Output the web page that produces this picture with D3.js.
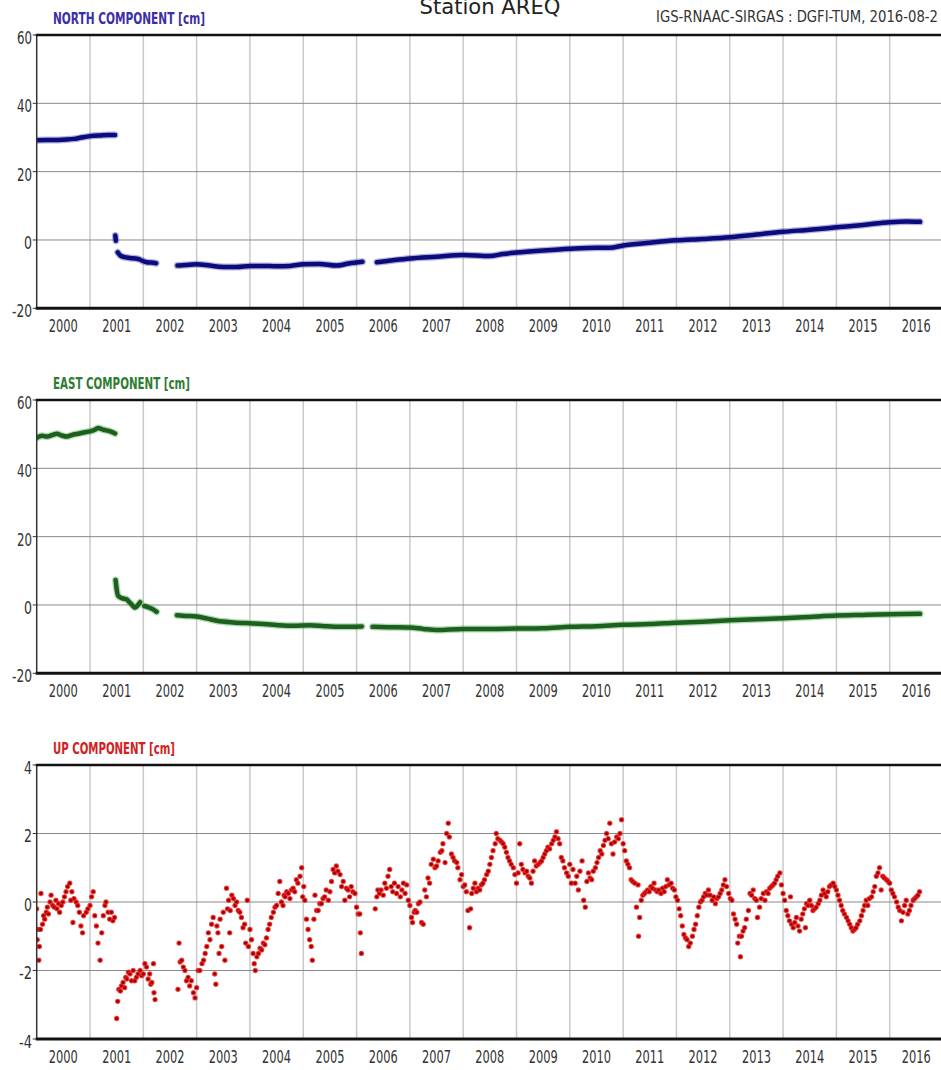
<!DOCTYPE html>
<html>
<head>
<meta charset="utf-8">
<script src="https://cdn.jsdelivr.net/npm/d3@7"></script>
<style>
  html, body { margin: 0; padding: 0; background: #fff; }
  svg { display: block; }
  text { font-family: "Liberation Sans Narrow", "DejaVu Sans Condensed", "Liberation Sans", sans-serif; }
</style>
</head>
<body>
<div id="chart"></div>
<script>
// ---- data ----
const yearLabels = d3.range(2000, 2017);          // 2000 ... 2016
const yearGrid = d3.range(2001, 2018);            // year boundaries
const neTicks = [-20, 0, 20, 40, 60];
const upTicks = [-4, -2, 0, 2, 4];

// [decimal year, cm]; null = data gap
const northPts = [
  [2000.00, 29.2], [2000.2, 29.3], [2000.4, 29.3], [2000.56, 29.4], [2000.7, 29.6], [2000.81, 29.9],
  [2001.0, 30.4], [2001.2, 30.6], [2001.35, 30.7], [2001.47, 30.7],
  null,
  [2001.475, 1.3], [2001.485, -0.2],
  null,
  [2001.52, -3.6], [2001.56, -4.4], [2001.6, -4.8], [2001.68, -5.1], [2001.75, -5.3], [2001.88, -5.5], [2001.93, -5.7],
  null,
  [2001.97, -6.0], [2002.06, -6.5], [2002.15, -6.6], [2002.24, -6.8],
  null,
  [2002.64, -7.5], [2002.8, -7.3], [2003.0, -7.1], [2003.25, -7.5], [2003.5, -7.9], [2003.75, -7.9],
  [2004.0, -7.6], [2004.25, -7.6], [2004.5, -7.7], [2004.75, -7.6], [2005.0, -7.1], [2005.3, -7.0],
  [2005.62, -7.5], [2005.85, -6.9], [2006.11, -6.4],
  null,
  [2006.38, -6.5], [2006.6, -6.1], [2007.0, -5.4], [2007.5, -4.9], [2008.0, -4.4], [2008.5, -4.7],
  [2008.75, -4.1], [2009.0, -3.7], [2009.5, -3.1], [2010.0, -2.6], [2010.5, -2.3], [2010.75, -2.3],
  [2011.0, -1.6], [2011.5, -0.8], [2012.0, -0.1], [2012.5, 0.3], [2013.0, 0.8], [2013.5, 1.6],
  [2014.0, 2.4], [2014.5, 3.0], [2015.0, 3.7], [2015.5, 4.4], [2016.0, 5.2], [2016.3, 5.4], [2016.57, 5.3]
];

const eastPts = [
  [2000.0, 48.9], [2000.1, 49.5], [2000.2, 49.3], [2000.3, 49.8], [2000.38, 50.1], [2000.47, 49.6],
  [2000.56, 49.3], [2000.69, 49.9], [2000.8, 50.2], [2000.88, 50.5], [2001.0, 50.8], [2001.08, 51.2],
  [2001.15, 51.8], [2001.25, 51.3], [2001.38, 50.8], [2001.47, 50.2],
  null,
  [2001.48, 7.3], [2001.5, 4.6], [2001.53, 2.6], [2001.6, 2.0], [2001.69, 1.6], [2001.74, 0.8],
  [2001.78, 0.2], [2001.84, -0.8], [2001.9, 0.0], [2001.94, 0.8],
  null,
  [2002.02, -0.3], [2002.08, -0.6], [2002.16, -1.1], [2002.25, -2.0],
  null,
  [2002.63, -3.0], [2002.8, -3.2], [2003.0, -3.4], [2003.2, -4.0], [2003.38, -4.6], [2003.69, -5.1],
  [2004.06, -5.4], [2004.44, -5.8], [2004.82, -6.1], [2005.13, -5.9], [2005.4, -6.2], [2005.7, -6.4], [2006.1, -6.3],
  null,
  [2006.3, -6.4], [2006.6, -6.5], [2007.0, -6.6], [2007.25, -7.0], [2007.5, -7.3], [2008.0, -7.0],
  [2008.5, -7.0], [2009.0, -6.9], [2009.5, -6.8], [2010.0, -6.4], [2010.5, -6.2], [2011.0, -5.8],
  [2011.5, -5.6], [2012.0, -5.2], [2012.5, -4.9], [2013.0, -4.5], [2013.5, -4.2], [2014.0, -3.9],
  [2014.5, -3.5], [2015.0, -3.1], [2015.5, -2.9], [2016.0, -2.7], [2016.57, -2.6]
];

const upPts = [
  [2000.00,-0.2],[2000.01,-1.1],[2000.03,-0.8],[2000.04,-1.7],[2000.05,-1.3],[2000.07,-0.8],[2000.08,0.25],
  [2000.11,-0.65],[2000.13,-0.4],[2000.15,-0.5],[2000.18,-0.3],[2000.2,-0.15],[2000.22,-0.35],[2000.25,0.0],
  [2000.27,0.2],[2000.3,-0.1],[2000.33,-0.15],[2000.36,0.05],[2000.38,-0.2],[2000.41,-0.05],[2000.43,-0.3],
  [2000.46,-0.1],[2000.49,0.0],[2000.52,0.15],[2000.55,0.3],[2000.58,0.45],[2000.62,0.55],[2000.64,0.05],
  [2000.66,0.3],[2000.68,-0.6],[2000.7,0.1],[2000.74,0.0],[2000.77,-0.1],[2000.8,-0.3],[2000.83,-0.7],
  [2000.86,-0.9],[2000.88,-0.4],[2000.93,-0.3],[2000.96,-0.2],[2001.0,-0.1],[2001.03,0.15],[2001.06,0.3],
  [2001.09,-0.4],[2001.12,-0.7],[2001.15,-1.2],[2001.19,-1.7],[2001.22,-0.9],[2001.25,-0.4],[2001.28,-0.1],
  [2001.3,0.0],[2001.34,-0.3],[2001.37,-0.5],[2001.4,-0.3],[2001.43,-0.55],[2001.46,-0.45],
  [2001.5,-3.4],[2001.52,-2.9],[2001.54,-2.55],[2001.57,-2.6],[2001.59,-2.45],[2001.62,-2.35],[2001.65,-2.5],
  [2001.67,-2.2],[2001.69,-2.25],[2001.72,-2.05],[2001.75,-2.1],[2001.78,-2.3],[2001.81,-2.0],[2001.84,-2.3],
  [2001.87,-2.2],[2001.9,-2.1],[2001.94,-2.0],[2001.97,-2.15],[2002.0,-2.1],[2002.03,-1.8],[2002.06,-1.9],
  [2002.09,-2.25],[2002.12,-2.1],[2002.14,-2.4],[2002.16,-2.35],[2002.19,-1.8],[2002.2,-2.65],[2002.22,-2.85],
  [2002.65,-2.55],[2002.67,-1.2],[2002.69,-1.75],[2002.72,-1.7],[2002.75,-1.9],[2002.78,-2.0],[2002.81,-2.3],
  [2002.84,-2.2],[2002.87,-2.45],[2002.9,-2.3],[2002.94,-2.65],[2002.97,-2.8],[2003.0,-2.5],[2003.03,-2.0],
  [2003.06,-2.0],[2003.1,-1.8],[2003.13,-1.7],[2003.16,-1.5],[2003.19,-1.3],[2003.22,-0.9],[2003.25,-1.1],
  [2003.28,-0.65],[2003.31,-0.45],[2003.34,-2.1],[2003.36,-2.4],[2003.38,-0.7],[2003.4,-0.9],[2003.42,-1.5],
  [2003.44,-0.5],[2003.47,-1.3],[2003.5,-0.3],[2003.53,-1.7],
  [2003.56,0.4],[2003.58,-0.2],[2003.6,0.05],[2003.62,-0.9],[2003.63,-0.25],[2003.66,0.2],[2003.69,0.1],
  [2003.72,-0.1],[2003.75,0.0],[2003.78,-0.25],[2003.81,-0.3],[2003.84,-0.45],[2003.87,-0.75],[2003.9,-0.65],
  [2003.92,-1.2],[2003.95,0.05],[2003.97,-1.3],[2004.0,-0.8],[2004.03,-1.1],[2004.06,-1.5],[2004.08,-1.8],
  [2004.1,-2.0],[2004.13,-1.6],[2004.16,-1.5],[2004.19,-1.35],[2004.22,-1.4],[2004.25,-1.2],[2004.28,-1.25],
  [2004.31,-1.05],[2004.34,-0.8],[2004.37,-0.65],[2004.4,-0.45],[2004.44,-0.3],[2004.47,-0.15],[2004.5,-0.1],
  [2004.53,0.25],[2004.56,0.6],[2004.59,0.0],[2004.62,-0.1],[2004.64,0.2],[2004.66,0.15],[2004.69,0.3],
  [2004.72,0.25],[2004.75,0.1],[2004.78,0.35],[2004.81,0.4],[2004.84,0.3],[2004.87,0.65],[2004.9,0.55],
  [2004.94,0.75],[2004.97,1.0],[2004.99,0.15],[2005.01,0.45],[2005.03,0.05],[2005.06,-0.5],[2005.09,-0.8],
  [2005.12,-1.1],[2005.15,-1.3],[2005.17,-1.7],[2005.2,-0.5],[2005.22,0.2],[2005.25,-0.25],[2005.28,-0.25],
  [2005.31,-0.05],[2005.34,-0.05],[2005.37,0.1],[2005.4,0.15],[2005.43,0.35],[2005.47,0.05],[2005.5,0.3],
  [2005.53,0.6],[2005.56,0.95],[2005.59,0.85],[2005.62,1.05],[2005.65,0.9],[2005.69,0.8],[2005.72,0.45],
  [2005.75,0.6],[2005.78,0.05],[2005.81,0.4],[2005.84,0.35],[2005.87,0.15],[2005.9,0.45],[2005.93,0.3],
  [2005.97,0.25],[2006.0,-0.15],[2006.03,-0.35],[2006.06,-0.35],[2006.07,-0.9],[2006.09,-1.5],
  [2006.35,-0.2],[2006.38,0.15],[2006.4,0.35],[2006.43,0.25],[2006.46,0.35],[2006.5,0.2],[2006.53,0.55],
  [2006.56,0.4],[2006.59,0.75],[2006.62,0.95],[2006.65,0.45],[2006.68,0.3],[2006.71,0.55],[2006.75,0.25],
  [2006.78,0.45],[2006.82,0.15],[2006.85,0.35],[2006.88,0.55],[2006.91,0.25],[2006.94,0.5],[2006.97,0.05],
  [2007.0,-0.1],[2007.03,-0.45],[2007.05,-0.6],[2007.08,-0.3],[2007.1,-0.25],[2007.13,-0.3],[2007.16,-0.05],
  [2007.19,0.0],[2007.22,-0.6],[2007.25,-0.65],[2007.28,0.35],[2007.31,0.15],[2007.34,0.7],[2007.37,0.55],
  [2007.4,1.1],[2007.44,1.25],[2007.47,1.0],[2007.5,1.05],[2007.53,1.2],[2007.57,1.45],[2007.6,1.5],
  [2007.62,1.7],[2007.66,1.15],[2007.69,2.0],[2007.72,2.3],[2007.74,1.9],[2007.78,1.4],[2007.81,1.3],
  [2007.84,1.2],[2007.88,1.15],[2007.9,1.0],[2007.94,0.65],[2007.97,0.8],[2008.0,0.45],[2008.03,0.5],
  [2008.06,0.3],[2008.09,-0.25],[2008.12,-0.75],[2008.14,-0.2],[2008.16,0.25],[2008.19,0.4],[2008.22,0.55],
  [2008.25,0.3],[2008.28,0.4],[2008.31,0.35],[2008.34,0.5],[2008.37,0.55],[2008.4,0.65],[2008.44,0.8],
  [2008.47,0.9],[2008.5,1.1],[2008.53,1.3],[2008.56,1.5],[2008.6,1.7],[2008.62,2.0],[2008.65,1.85],
  [2008.69,1.8],[2008.72,1.75],[2008.75,1.7],[2008.78,1.6],[2008.81,1.45],[2008.84,1.3],[2008.87,1.2],
  [2008.9,1.1],[2008.94,1.0],[2008.97,0.8],[2009.0,0.55],[2009.03,0.85],[2009.06,1.7],[2009.09,1.1],
  [2009.12,0.95],[2009.16,0.85],[2009.19,0.9],[2009.22,0.75],[2009.25,0.7],[2009.28,0.55],[2009.31,0.9],
  [2009.34,1.2],[2009.37,1.05],[2009.41,1.1],[2009.44,1.15],[2009.47,1.2],[2009.5,1.3],[2009.53,1.4],
  [2009.56,1.5],[2009.59,1.6],[2009.62,1.55],[2009.66,1.7],[2009.69,1.8],[2009.72,1.9],[2009.75,2.05],
  [2009.78,1.85],[2009.81,1.7],[2009.84,1.3],[2009.87,1.2],[2009.9,1.0],[2009.94,0.85],[2009.97,0.75],
  [2010.0,1.1],[2010.03,0.55],[2010.06,0.95],[2010.1,0.55],[2010.13,0.75],[2010.16,0.35],[2010.19,0.9],
  [2010.23,1.2],[2010.26,0.05],[2010.29,-0.15],[2010.32,0.6],[2010.35,0.85],[2010.38,0.7],[2010.41,0.65],
  [2010.44,0.9],[2010.48,1.0],[2010.51,1.15],[2010.54,1.3],[2010.57,1.5],[2010.6,1.4],[2010.63,1.65],
  [2010.66,1.8],[2010.69,2.0],[2010.72,1.85],[2010.75,2.3],[2010.78,1.7],[2010.81,1.4],[2010.84,1.75],
  [2010.88,1.9],[2010.91,1.85],[2010.94,2.0],[2010.97,2.4],[2011.0,1.7],[2011.03,1.5],[2011.06,1.2],
  [2011.09,1.1],[2011.12,1.0],[2011.15,0.65],[2011.18,0.6],[2011.22,0.55],[2011.25,-0.15],[2011.28,0.5],
  [2011.29,-1.0],[2011.31,-0.45],[2011.34,0.05],[2011.37,0.2],[2011.4,0.25],[2011.43,0.3],[2011.46,0.35],
  [2011.49,0.3],[2011.52,0.45],[2011.55,0.4],[2011.58,0.55],[2011.61,0.35],[2011.64,0.3],[2011.67,0.35],
  [2011.71,0.25],[2011.74,0.4],[2011.77,0.3],[2011.8,0.45],[2011.83,0.65],[2011.86,0.5],[2011.9,0.55],
  [2011.93,0.4],[2011.96,0.35],[2011.99,0.15],[2012.02,0.05],[2012.05,-0.2],[2012.08,-0.4],[2012.11,-0.7],
  [2012.14,-0.95],[2012.17,-1.05],[2012.2,-1.1],[2012.23,-1.3],[2012.26,-1.2],[2012.3,-1.0],[2012.33,-0.8],
  [2012.36,-0.65],[2012.39,-0.4],[2012.42,-0.15],[2012.45,0.0],[2012.48,0.05],[2012.51,0.15],[2012.54,0.25],
  [2012.57,0.2],[2012.6,0.35],[2012.63,0.2],[2012.67,0.05],[2012.7,0.15],[2012.73,-0.05],[2012.76,0.1],
  [2012.79,0.15],[2012.82,0.25],[2012.85,0.35],[2012.88,0.5],[2012.91,0.65],[2012.94,0.45],[2012.98,0.25],
  [2013.01,0.1],[2013.04,0.05],[2013.07,-0.35],[2013.1,-0.5],[2013.13,-0.65],[2013.15,-1.2],[2013.18,-1.0],
  [2013.2,-1.6],[2013.22,-1.0],[2013.25,-0.85],[2013.28,-0.75],[2013.31,-0.5],[2013.35,-0.25],[2013.38,0.25],
  [2013.41,0.2],[2013.44,0.35],[2013.47,0.1],[2013.5,0.05],[2013.52,-0.45],[2013.56,-0.15],[2013.59,0.1],
  [2013.63,0.25],[2013.66,0.05],[2013.69,0.3],[2013.72,0.25],[2013.75,0.4],[2013.78,0.45],[2013.81,0.5],
  [2013.84,0.55],[2013.87,0.65],[2013.9,0.75],[2013.94,0.85],[2013.97,0.5],[2014.0,0.25],[2014.03,0.05],
  [2014.06,-0.25],[2014.09,-0.4],[2014.12,-0.55],[2014.14,0.15],[2014.16,-0.65],[2014.19,-0.75],[2014.22,-0.6],
  [2014.25,-0.45],[2014.28,-0.7],[2014.31,-0.85],[2014.34,-0.5],[2014.37,-0.35],[2014.4,-0.2],[2014.42,-0.75],
  [2014.44,-0.05],[2014.47,-0.1],[2014.5,0.05],[2014.53,-0.1],[2014.56,-0.25],[2014.59,-0.2],[2014.62,-0.15],
  [2014.66,-0.05],[2014.69,0.05],[2014.72,0.2],[2014.75,0.35],[2014.78,0.25],[2014.81,0.15],[2014.84,0.3],
  [2014.87,0.45],[2014.9,0.5],[2014.94,0.55],[2014.97,0.45],[2015.0,0.35],[2015.03,0.2],[2015.06,0.05],
  [2015.09,-0.1],[2015.12,-0.25],[2015.15,-0.35],[2015.19,-0.45],[2015.22,-0.55],[2015.25,-0.65],[2015.28,-0.75],
  [2015.31,-0.85],[2015.34,-0.8],[2015.37,-0.75],[2015.4,-0.65],[2015.44,-0.55],[2015.47,-0.4],[2015.5,-0.25],
  [2015.53,-0.1],[2015.56,0.05],[2015.59,-0.1],[2015.62,0.1],[2015.66,0.15],[2015.69,0.3],[2015.72,0.45],
  [2015.75,0.75],[2015.78,0.85],[2015.81,1.0],[2015.84,0.35],[2015.87,0.75],[2015.9,0.7],[2015.94,0.65],
  [2015.97,0.6],[2016.0,0.55],[2016.03,0.35],[2016.06,0.25],[2016.09,0.15],[2016.13,0.0],[2016.16,-0.15],
  [2016.19,-0.25],[2016.22,-0.55],[2016.25,-0.3],[2016.28,-0.1],[2016.31,0.05],[2016.34,-0.35],[2016.37,-0.25],
  [2016.4,-0.1],[2016.44,0.05],[2016.47,0.1],[2016.5,0.15],[2016.53,0.2],[2016.56,0.3]
];

const titleText = "Station AREQ";
const sourceText = "IGS-RNAAC-SIRGAS : DGFI-TUM, 2016-08-2";

// ---- layout ----
const width = 941, height = 1070;
const x = d3.scaleLinear().domain([2000, 2017]).range([36.7, 943]);

const panels = [
  { id: "north", label: "NORTH COMPONENT [cm]", labelLen: 152, color: "#3a2fa6",
    top: 35, bottom: 308.3, domain: [-20, 60], ticks: neTicks, data: northPts,
    core: "#0b0b7c", halo: "#5656c0", kind: "band" },
  { id: "east", label: "EAST COMPONENT [cm]", labelLen: 137, color: "#2e7d32",
    top: 400, bottom: 673.3, domain: [-20, 60], ticks: neTicks, data: eastPts,
    core: "#1d5f1f", halo: "#4fae4f", kind: "band" },
  { id: "up", label: "UP COMPONENT [cm]", labelLen: 122, color: "#d32020",
    top: 765, bottom: 1039, domain: [-4, 4], ticks: upTicks, data: upPts,
    core: "#9a0000", halo: "#f22626", kind: "dots" }
];

const svg = d3.select("#chart").append("svg")
  .attr("width", width).attr("height", height);

// header texts
svg.append("text")
  .attr("x", 490).attr("y", 14)
  .attr("text-anchor", "middle")
  .attr("font-size", 21)
  .attr("textLength", 141).attr("lengthAdjust", "spacingAndGlyphs")
  .attr("fill", "#222")
  .text(titleText);

svg.append("text")
  .attr("x", 656).attr("y", 21.5)
  .attr("font-size", 15.5)
  .attr("textLength", 282).attr("lengthAdjust", "spacingAndGlyphs")
  .attr("fill", "#333")
  .text(sourceText);

panels.forEach(p => {
  const y = d3.scaleLinear().domain(p.domain).range([p.bottom, p.top]);
  const g = svg.append("g").attr("class", "panel-" + p.id);

  g.append("clipPath").attr("id", "clip-" + p.id)
    .append("rect")
    .attr("x", x(2000)).attr("y", p.top)
    .attr("width", x(2017) - x(2000)).attr("height", p.bottom - p.top);

  // vertical grid at year boundaries
  g.append("g").selectAll("line")
    .data(yearGrid)
    .join("line")
    .attr("x1", d => x(d)).attr("x2", d => x(d))
    .attr("y1", p.top).attr("y2", p.bottom)
    .attr("stroke", "#c9c9c9").attr("stroke-width", 1.5);

  // horizontal grid
  g.append("g").selectAll("line")
    .data(p.ticks.slice(1, -1))
    .join("line")
    .attr("x1", x(2000)).attr("x2", x(2017))
    .attr("y1", d => y(d)).attr("y2", d => y(d))
    .attr("stroke", "#8a8a8a").attr("stroke-width", 1);

  const plot = g.append("g").attr("clip-path", `url(#clip-${p.id})`);

  if (p.kind === "band") {
    const line = d3.line()
      .defined(d => d !== null)
      .x(d => x(d[0])).y(d => y(d[1]))
      .curve(d3.curveMonotoneX);
    plot.append("path")
      .attr("d", line(p.data))
      .attr("fill", "none").attr("stroke", p.halo)
      .attr("stroke-width", 7).attr("stroke-opacity", 0.45)
      .attr("stroke-linecap", "round").attr("stroke-linejoin", "round");
    plot.append("path")
      .attr("d", line(p.data))
      .attr("fill", "none").attr("stroke", p.core)
      .attr("stroke-width", 4.5)
      .attr("stroke-linecap", "round").attr("stroke-linejoin", "round");
  } else {
    plot.selectAll("circle")
      .data(p.data)
      .join("circle")
      .attr("cx", d => x(d[0])).attr("cy", d => y(d[1]))
      .attr("r", 2.1)
      .attr("fill", p.core)
      .attr("stroke", p.halo).attr("stroke-width", 1.2).attr("stroke-opacity", 0.8);
  }

  // frame: thin left, heavy top and bottom
  g.append("line")
    .attr("x1", x(2000)).attr("x2", x(2000))
    .attr("y1", p.top).attr("y2", p.bottom)
    .attr("stroke", "#333").attr("stroke-width", 1.5);
  g.append("line")
    .attr("x1", x(2000) - 1).attr("x2", x(2017))
    .attr("y1", p.top).attr("y2", p.top)
    .attr("stroke", "#111").attr("stroke-width", 2.5);
  g.append("line")
    .attr("x1", x(2000) - 1).attr("x2", x(2017))
    .attr("y1", p.bottom).attr("y2", p.bottom)
    .attr("stroke", "#111").attr("stroke-width", 3);

  // y ticks + labels
  g.append("g").selectAll("line")
    .data(p.ticks)
    .join("line")
    .attr("x1", x(2000) - 4).attr("x2", x(2000))
    .attr("y1", d => y(d)).attr("y2", d => y(d))
    .attr("stroke", "#333").attr("stroke-width", 1);

  g.append("g").selectAll("text")
    .data(p.ticks)
    .join("text")
    .attr("x", 32).attr("y", d => y(d) + 3)
    .attr("dy", "0.35em")
    .attr("text-anchor", "end")
    .attr("font-size", 17)
    .attr("fill", "#333")
    .attr("textLength", d => {
      const s = String(d);
      return s.length === 1 ? 8 : (s.startsWith("-") ? (s.length === 2 ? 13 : 20) : 15);
    })
    .attr("lengthAdjust", "spacingAndGlyphs")
    .text(d => d);

  // x labels centred in each year
  g.append("g").selectAll("text")
    .data(yearLabels)
    .join("text")
    .attr("x", d => x(d + 0.5)).attr("y", p.bottom + 17.5)
    .attr("dy", "0.35em")
    .attr("text-anchor", "middle")
    .attr("font-size", 18)
    .attr("fill", "#333")
    .attr("textLength", 29).attr("lengthAdjust", "spacingAndGlyphs")
    .text(d => d);

  // component title
  g.append("text")
    .attr("x", 53).attr("y", p.top - 11)
    .attr("font-size", 16).attr("font-weight", "bold")
    .attr("fill", p.color)
    .attr("textLength", p.labelLen).attr("lengthAdjust", "spacingAndGlyphs")
    .text(p.label);
});
</script>
</body>
</html>
